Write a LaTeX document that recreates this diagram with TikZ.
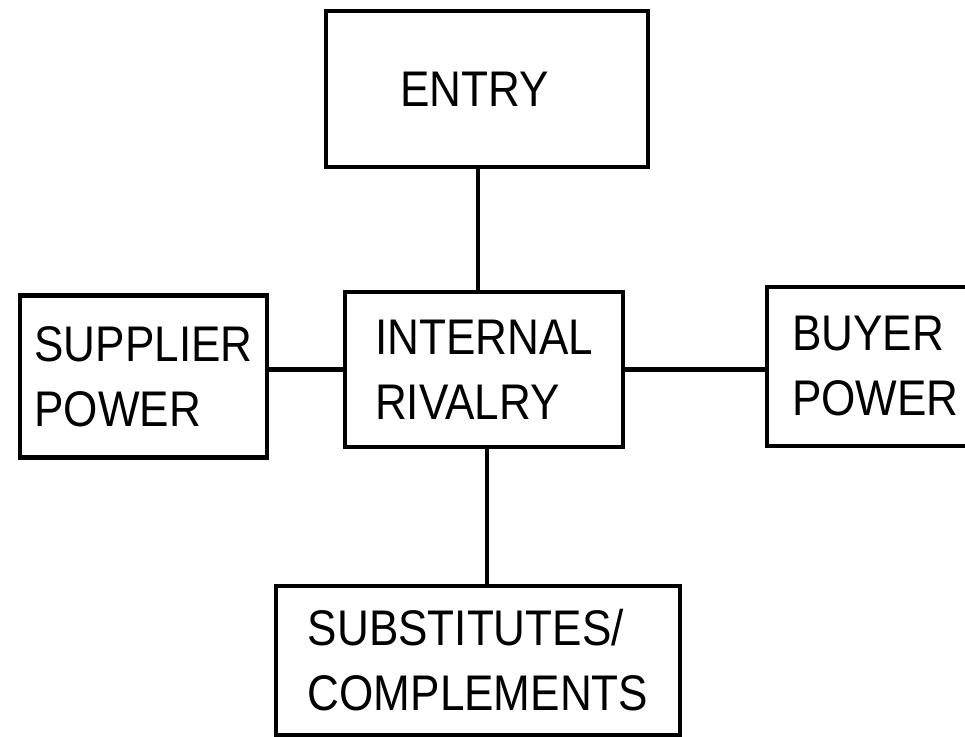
\documentclass[tikz,border=0pt]{standalone}
\usepackage{fontspec}
\setmainfont{Liberation Sans}[FakeStretch=0.88]
\usetikzlibrary{positioning}

\begin{document}
\begin{tikzpicture}[x=0.02cm, y=-0.02cm, line width=0.09cm,
    force/.style={draw, rectangle, align=left, inner sep=0pt,
      font=\fontsize{28.5}{37}\selectfont}]
     \clip (0,0) rectangle (965,737);
     \node[force, minimum width=6.44cm, minimum height=3.12cm]  (entry)    at (487,89)    {ENTRY\hspace{0.5cm}};
     \node[force, minimum width=5.56cm, minimum height=3.10cm]  (rivalry)  at (484,369.5) {INTERNAL\\RIVALRY};
     \node[force, minimum width=5.40cm, minimum height=3.18cm, text width=4.40cm]  (buyer)    at (902,366.5) {BUYER\\POWER};
     \node[force, minimum width=4.94cm, minimum height=3.24cm]  (supplier) at (143.5,376.5) {SUPPLIER\\POWER};
     \node[force, minimum width=8.08cm, minimum height=2.98cm]  (subs)     at (478,660.5) {SUBSTITUTES/\\COMPLEMENTS};

     \path ([xshift=-0.12cm]rivalry.north) edge ([xshift=-0.12cm]rivalry.north |- entry.south)
           (rivalry.west)  edge (rivalry.west -| supplier.east)
           (rivalry.east)  edge (rivalry.east -| buyer.west)
           ([xshift=0.06cm]rivalry.south) edge ([xshift=0.06cm]rivalry.south |- subs.north);
\end{tikzpicture}
\end{document}
